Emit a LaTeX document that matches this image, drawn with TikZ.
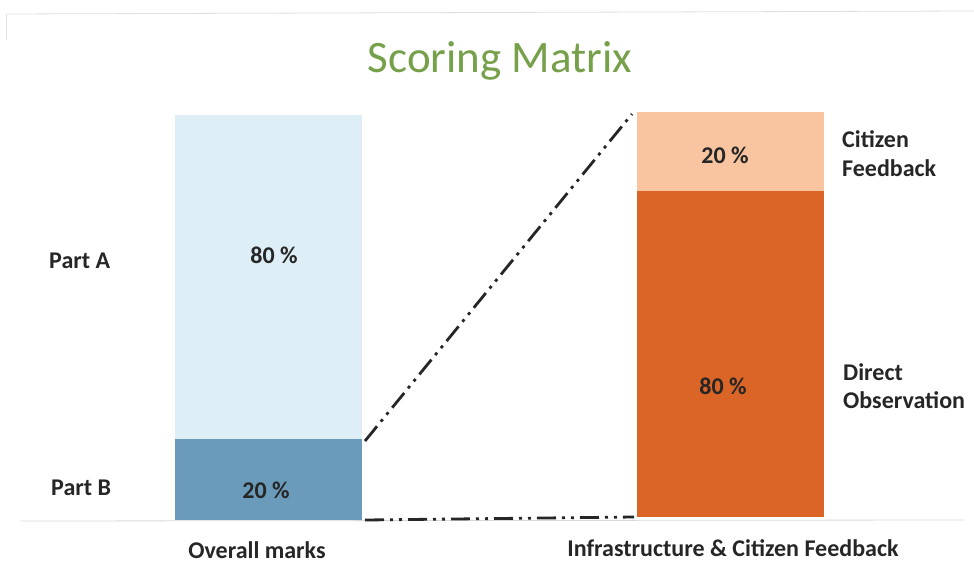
\documentclass[tikz,border=0pt]{standalone}
\usepackage{fontspec}
\setmainfont{Carlito}
\begin{document}
\begin{tikzpicture}[x=1pt,y=-1pt,
  lbl/.style={font=\bfseries\fontsize{24}{29}\selectfont, text=black!85, align=left, inner sep=0pt},
  pct/.style={font=\bfseries\fontsize{24}{29}\selectfont, text=black!85, inner sep=0pt},
  link/.style={line width=2.8pt, black!85, dash pattern=on 19pt off 6pt on 3pt off 6pt on 3pt off 6pt}]
\useasboundingbox (0,0) rectangle (974,577);
\fill[white] (0,0) rectangle (974,577);
\definecolor{lightblue}{HTML}{DEEEF6}
\definecolor{steel}{HTML}{6A9BBA}
\definecolor{peach}{HTML}{F9C4A0}
\definecolor{burnt}{HTML}{DB6527}
\definecolor{titlegreen}{HTML}{76A04A}
% slide frame
\draw[black!12, line width=0.8pt] (6,14) -- (974,11);
\draw[black!12, line width=0.8pt] (6,14) -- (6,40);
% baseline
\draw[black!15, line width=0.8pt] (20,521) -- (965,520);
% title
\node[font=\fontsize{45}{52}\selectfont, text=titlegreen, anchor=base, inner sep=0pt] (title) at (500,73) {Scoring Matrix};
% left bar
\fill[lightblue] (175,115) rectangle (362,439);
\fill[steel] (175,439) rectangle (362,520);
\coordinate (lefttop) at (365,441);
\coordinate (leftbot) at (365,520);
% right bar
\fill[peach] (637,112) rectangle (824,191);
\fill[burnt] (637,191) rectangle (824,517);
\coordinate (righttop) at (632,114);
\coordinate (rightbot) at (634,517);
% connectors
\draw[link] (lefttop) -- (righttop);
\draw[link] (leftbot) -- (rightbot);
% labels
\node[lbl, anchor=base west] (pa) at (49,269) {Part A};
\node[lbl, anchor=base west] (pb) at (51,495) {Part B};
\node[pct, anchor=base] (p80l) at (274,264) {80 \%};
\node[pct, anchor=base] (p20l) at (266,498) {20 \%};
\node[pct, anchor=base] (p20r) at (725,164) {20 \%};
\node[pct, anchor=base] (p80r) at (723,394) {80 \%};
\node[lbl, anchor=base west] (cf1) at (842,148) {Citizen};
\node[lbl, anchor=base west] (cf2) at (842,177) {Feedback};
\node[lbl, anchor=base west] (do1) at (843,380) {Direct};
\node[lbl, anchor=base west] (do2) at (843,408) {Observation};
\node[lbl, anchor=base] (om) at (257,558) {Overall marks};
\node[lbl, anchor=base] (icf) at (733,556) {Infrastructure \& Citizen Feedback};
\end{tikzpicture}
\end{document}
